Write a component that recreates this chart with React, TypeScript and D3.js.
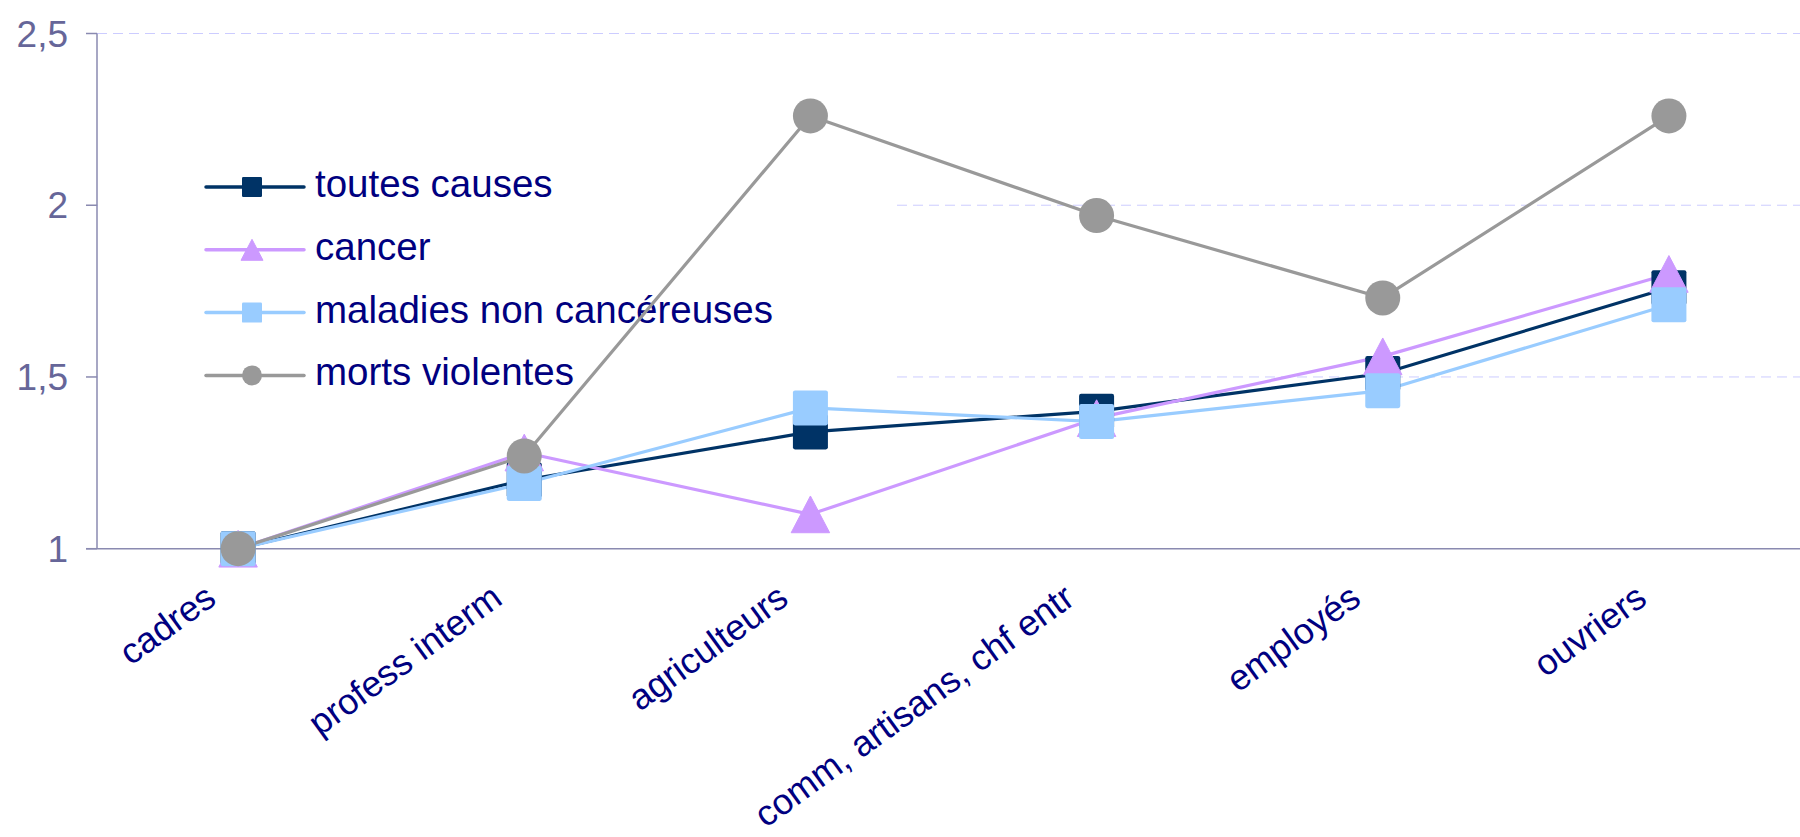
import { useEffect, useRef } from "react";
import * as d3 from "d3";

const WIDTH = 1800;
const HEIGHT = 837;
const MARGINS = { LEFT: 95, RIGHT: -12, TOP: 33.5, BOTTOM: 288.3 };

const categories = [
  "cadres",
  "profess interm",
  "agriculteurs",
  "comm, artisans, chf entr",
  "employés",
  "ouvriers",
];

const toutesCauses = [1, 1.2, 1.34, 1.4, 1.51, 1.76];
const cancer = [1, 1.28, 1.1, 1.38, 1.56, 1.8];
const maladiesNonCancereuses = [1, 1.19, 1.41, 1.37, 1.46, 1.71];
const mortsViolentes = [1, 1.27, 2.26, 1.97, 1.73, 2.26];

const yTicks = [1, 1.5, 2, 2.5];
const yTickLabels = ["1", "1,5", "2", "2,5"];

const series = [
  { label: "toutes causes", values: toutesCauses, color: "#003366", marker: "square" },
  { label: "cancer", values: cancer, color: "#cc99ff", marker: "triangle" },
  { label: "maladies non cancéreuses", values: maladiesNonCancereuses, color: "#99ccff", marker: "square" },
  { label: "morts violentes", values: mortsViolentes, color: "#999999", marker: "circle" },
];

const FONT = "'Liberation Sans', Arial, sans-serif";

// draws one marker centred on (cx, cy), size = bounding box side
function drawMarker(g: any, kind: string, cx: number, cy: number, size: number, color: string) {
  if (kind === "square") {
    g.append("rect")
      .attr("x", cx - size / 2)
      .attr("y", cy - size / 2)
      .attr("width", size)
      .attr("height", size)
      .attr("rx", size * 0.06)
      .attr("fill", color);
  } else if (kind === "triangle") {
    const w = size * 1.1;
    const h = size * 1.05;
    g.append("path")
      .attr(
        "d",
        `M${cx},${cy - h / 2} L${cx + w / 2},${cy + h / 2} L${cx - w / 2},${cy + h / 2} Z`
      )
      .attr("fill", color)
      .attr("stroke", color)
      .attr("stroke-linejoin", "round")
      .attr("stroke-width", 1);
  } else {
    g.append("circle").attr("cx", cx).attr("cy", cy).attr("r", size / 2).attr("fill", color);
  }
}

const MortaliteChart = () => {
  const gridRef = useRef<SVGGElement | null>(null);
  const legendRef = useRef<SVGGElement | null>(null);
  const axesRef = useRef<SVGGElement | null>(null);
  const chartRef = useRef<SVGGElement | null>(null);

  useEffect(() => {
    const xScale = d3
      .scaleBand<string>()
      .domain(categories)
      .range([MARGINS.LEFT, WIDTH - MARGINS.RIGHT]);
    const xc = (c: string) => (xScale(c) as number) + xScale.bandwidth() / 2;

    const yScale = d3
      .scaleLinear()
      .domain([1, 2.5])
      .range([HEIGHT - MARGINS.BOTTOM, MARGINS.TOP]);

    const axisX = 97;

    // gridlines
    const grid = d3.select(gridRef.current);
    grid.selectAll("*").remove();
    grid
      .selectAll("line")
      .data(yTicks.filter((t) => t > 1))
      .join("line")
      .attr("x1", axisX)
      .attr("x2", WIDTH)
      .attr("y1", (d) => yScale(d))
      .attr("y2", (d) => yScale(d))
      .attr("stroke", "#ccccff")
      .attr("stroke-width", 1)
      .attr("stroke-dasharray", "10,6");

    // legend (white box hides the gridlines behind it)
    const legend = d3.select(legendRef.current);
    legend.selectAll("*").remove();
    legend
      .append("rect")
      .attr("x", axisX + 1)
      .attr("y", 150)
      .attr("width", 895 - axisX)
      .attr("height", 262)
      .attr("fill", "white");

    series.forEach((s, i) => {
      const rowY = 187 + i * 62.8;
      const item = legend.append("g");
      item
        .append("line")
        .attr("x1", 206)
        .attr("x2", 304)
        .attr("y1", rowY)
        .attr("y2", rowY)
        .attr("stroke", s.color)
        .attr("stroke-width", 3.5)
        .attr("stroke-linecap", "round");
      drawMarker(item, s.marker, 252, rowY, 20, s.color);
      item
        .append("text")
        .attr("x", 315)
        .attr("y", rowY + 10)
        .attr("fill", "#000080")
        .style("font-family", FONT)
        .style("font-size", "38.5px")
        .text(s.label);
    });

    // axes
    const axes = d3.select(axesRef.current);
    axes.selectAll("*").remove();
    const axisColor = "#8a8ab0";
    axes
      .append("line")
      .attr("x1", axisX)
      .attr("x2", axisX)
      .attr("y1", yScale(2.5))
      .attr("y2", yScale(1))
      .attr("stroke", axisColor)
      .attr("stroke-width", 1.5);
    axes
      .append("line")
      .attr("x1", 86)
      .attr("x2", WIDTH)
      .attr("y1", yScale(1))
      .attr("y2", yScale(1))
      .attr("stroke", axisColor)
      .attr("stroke-width", 1.5);
    axes
      .selectAll(".ytick")
      .data(yTicks)
      .join("line")
      .attr("class", "ytick")
      .attr("x1", 86)
      .attr("x2", axisX)
      .attr("y1", (d) => yScale(d))
      .attr("y2", (d) => yScale(d))
      .attr("stroke", axisColor)
      .attr("stroke-width", 1.5);
    axes
      .selectAll(".ylabel")
      .data(yTicks)
      .join("text")
      .attr("class", "ylabel")
      .attr("x", 68)
      .attr("y", (d) => yScale(d) + 13)
      .attr("text-anchor", "end")
      .attr("fill", "#666699")
      .style("font-family", FONT)
      .style("font-size", "37px")
      .text((_, i) => yTickLabels[i]);
    axes
      .selectAll(".xlabel")
      .data(categories)
      .join("text")
      .attr("class", "xlabel")
      .attr("transform", (d) => `translate(${xc(d) - 20}, ${yScale(1) + 54}) rotate(-36)`)
      .attr("text-anchor", "end")
      .attr("fill", "#000080")
      .style("font-family", FONT)
      .style("font-size", "36px")
      .text((d) => d);

    // series: all lines first, then markers
    const chart = d3.select(chartRef.current);
    chart.selectAll("*").remove();
    const lineGen = d3
      .line<number>()
      .x((_, i) => xc(categories[i]))
      .y((d) => yScale(d));

    series.forEach((s) => {
      chart
        .append("path")
        .datum(s.values)
        .attr("d", lineGen)
        .attr("fill", "none")
        .attr("stroke", s.color)
        .attr("stroke-width", 3.2)
        .attr("stroke-linejoin", "round");
    });
    series.forEach((s) => {
      const mg = chart.append("g");
      s.values.forEach((v, i) => {
        drawMarker(mg, s.marker, xc(categories[i]), yScale(v), 35, s.color);
      });
    });
  }, []);

  return (
    <svg
      width={WIDTH}
      height={HEIGHT}
      style={{ position: "absolute", left: 0, top: 0, background: "white" }}
    >
      <g ref={gridRef} />
      <g ref={legendRef} />
      <g ref={axesRef} />
      <g ref={chartRef} />
    </svg>
  );
};

export default function App() {
  return <MortaliteChart />;
}
